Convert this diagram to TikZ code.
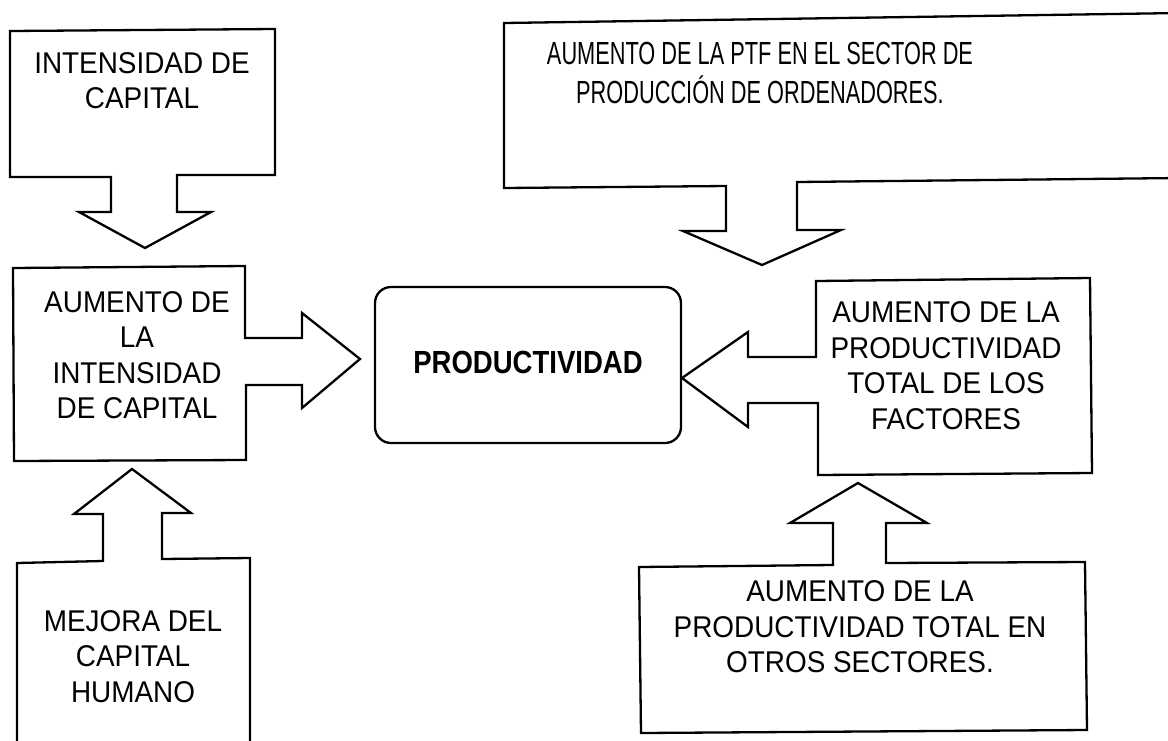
\documentclass[tikz,border=0pt]{standalone}
\usepackage{fontspec}
\setmainfont{Liberation Sans}[FakeStretch=0.93]
\newfontfamily\wideheadfont{Liberation Sans}[FakeStretch=0.68]
\newfontfamily\centralfont{Liberation Sans}[FakeStretch=0.86]
\begin{document}
\begin{tikzpicture}[x=1pt,y=-1pt,
  outline/.style={draw=black, line width=2.3pt, line join=miter},
  txt/.style={inner sep=0pt, align=center, font=\fontsize{30}{35.5}\selectfont},
  toptxt/.style={inner sep=0pt, align=center, font=\wideheadfont\fontsize{32}{39.5}\selectfont},
  maintxt/.style={inner sep=0pt, align=center, font=\centralfont\bfseries\fontsize{32}{38}\selectfont},
  central/.style={draw=black, line width=2.3pt, rounded corners=16pt, minimum width=306pt, minimum height=156pt}
]
\clip (0,0) rectangle (1168,740);
\fill[white] (0,0) rectangle (1168,740);

% box 1: INTENSIDAD DE CAPITAL, arrow down
\draw[outline] (10,31) -- (275,29) -- (275,175) -- (177,175) -- (177,212) -- (211,212)
  -- (145,248) -- (79,212) -- (111,212) -- (111,177) -- (10,177) -- cycle;
\node[txt] (t1) at (142,80.5) {INTENSIDAD DE\\CAPITAL};

% box 2: AUMENTO DE LA INTENSIDAD DE CAPITAL, arrow right
\draw[outline] (13,268) -- (245,266) -- (245,338) -- (302,338) -- (302,313) -- (360,359)
  -- (302,408) -- (302,385) -- (246,385) -- (246,460) -- (14,461) -- cycle;
\node[txt] (t2) at (137,355) {AUMENTO DE\\LA\\INTENSIDAD\\DE CAPITAL};

% box 3: MEJORA DEL CAPITAL HUMANO, arrow up
\draw[outline] (17,760) -- (17,563) -- (103,561) -- (103,514) -- (74,514) -- (132,469)
  -- (191,513) -- (162,513) -- (162,559) -- (250,558) -- (250,760);
\node[txt] (t3) at (133,656.5) {MEJORA DEL\\CAPITAL\\HUMANO};

% central box
\node[central] (prod) at (528,365) {};
\node[maintxt] (t0) at (528,362) {PRODUCTIVIDAD};

% top right box, arrow down
\draw[outline] (1180,13) -- (504,23) -- (504,188) -- (726,186) -- (726,231) -- (683,231)
  -- (762,265) -- (841,230) -- (797,230) -- (797,182) -- (1180,178);
\node[toptxt] (t4) at (760,73) {AUMENTO DE LA PTF EN EL SECTOR DE\\PRODUCCIÓN DE ORDENADORES.};

% right box, arrow left
\draw[outline] (816,281) -- (1090,278) -- (1092,473) -- (818,475) -- (818,403) -- (748,403)
  -- (748,427) -- (682,378) -- (748,332) -- (748,357) -- (816,357) -- cycle;
\node[txt] (t5) at (946,365.5) {AUMENTO DE LA\\PRODUCTIVIDAD\\TOTAL DE LOS\\FACTORES};

% bottom right box, arrow up
\draw[outline] (639,567) -- (833,565) -- (833,523) -- (790,523) -- (858,483) -- (927,523)
  -- (886,523) -- (886,563) -- (1085,562) -- (1087,730) -- (641,733) -- cycle;
\node[txt] (t6) at (860,627) {AUMENTO DE LA\\PRODUCTIVIDAD TOTAL EN\\OTROS SECTORES.};
\end{tikzpicture}
\end{document}
